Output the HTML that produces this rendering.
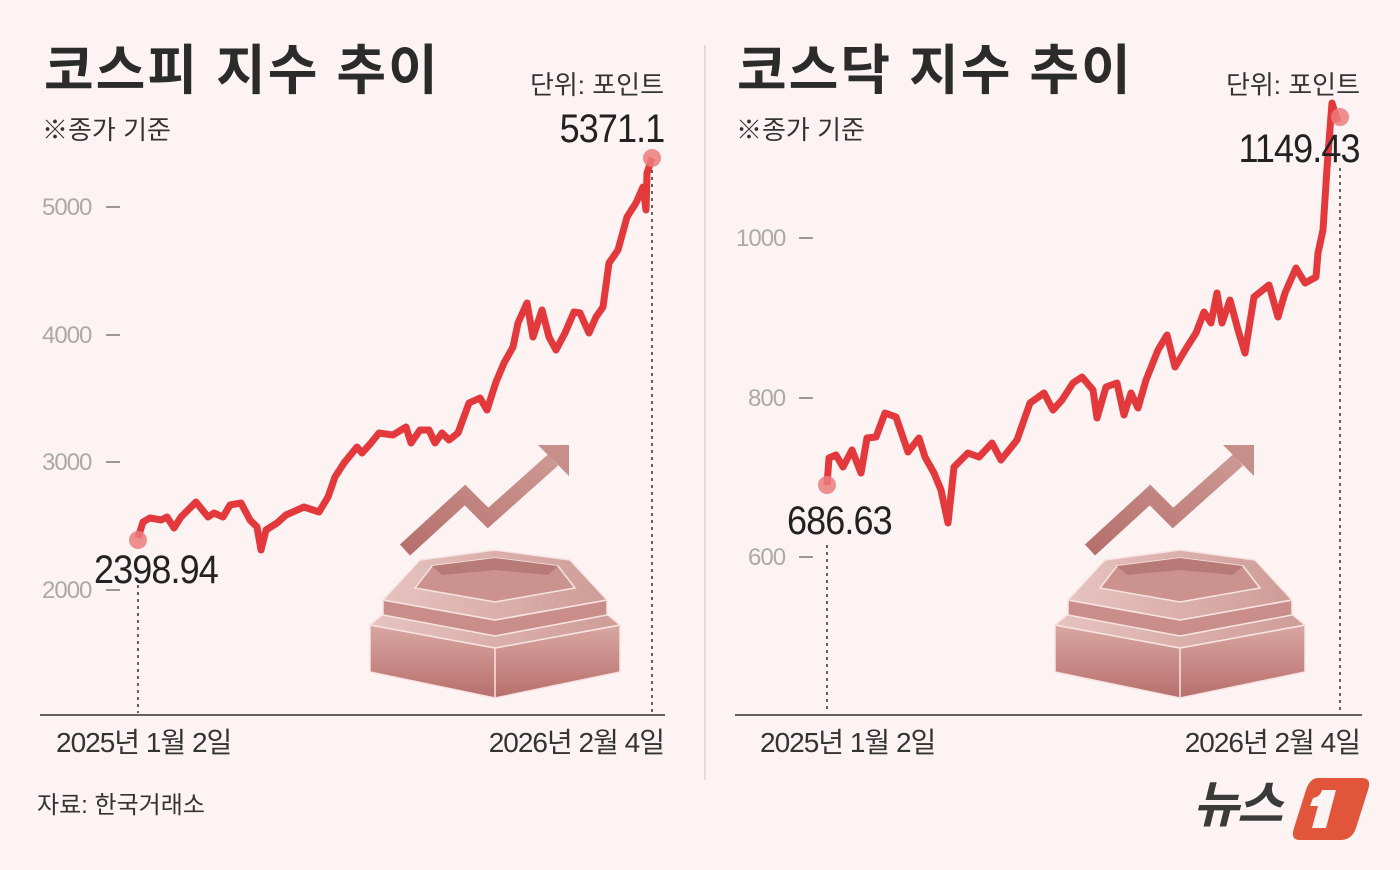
<!DOCTYPE html>
<html><head><meta charset="utf-8"><style>
body{margin:0;width:1400px;height:870px;background:#fdf3f3;overflow:hidden;position:relative;font-family:"Liberation Sans","Noto Sans CJK KR",sans-serif;}
.t{position:absolute;white-space:nowrap;line-height:1;}
.title{font-size:54px;font-weight:bold;color:#2b2b2b;letter-spacing:2px;}
.sub{font-size:26px;color:#333;}
.tick{font-size:24px;color:#aaa;letter-spacing:-1px;}
.val{font-size:40px;color:#222;letter-spacing:-1px;transform:scaleX(0.9);}
.date{font-size:28px;color:#333;letter-spacing:-1px;}
</style></head><body>
<svg width="1400" height="870" style="position:absolute;left:0;top:0">
<defs>
<linearGradient id="gf" x1="0" y1="0" x2="0" y2="1"><stop offset="0" stop-color="#d9a7a2"/><stop offset="1" stop-color="#b76f6c"/></linearGradient>
<linearGradient id="gt" x1="0" y1="0" x2="1" y2="0"><stop offset="0" stop-color="#e6c3bf"/><stop offset="1" stop-color="#cf9c97"/></linearGradient>
<linearGradient id="ga" x1="0" y1="1" x2="1" y2="0"><stop offset="0" stop-color="#b66f6c"/><stop offset="1" stop-color="#cd9893"/></linearGradient>
<g id="ped">
<polygon points="370,625 495,648 620,625 620,672 495,698 370,672" fill="url(#gf)" stroke="#f7e4e2" stroke-width="1.5"/>
<line x1="495" y1="648" x2="495" y2="698" stroke="#f7e4e2" stroke-width="1.5"/>
<polygon points="370,625 400,600 495,592 590,600 620,625 495,648" fill="url(#gt)" stroke="#f7e4e2" stroke-width="1.5"/>
<polygon points="383,600 495,620 607,600 607,615 495,636 383,615" fill="#c98e89" stroke="#f7e4e2" stroke-width="1.5"/>
<polygon points="383,600 420,560 495,550 570,560 607,600 495,620" fill="url(#gt)" stroke="#f7e4e2" stroke-width="1.5"/>
<polygon points="415,588 432,566 495,558 558,566 575,588 495,602" fill="#cc938e" stroke="#f7e4e2" stroke-width="1.5"/>
<polygon points="432,566 495,558 558,566 548,575 495,570 442,575" fill="#b77a76"/>
<polyline points="405,550 465,495 488,518 553,460" fill="none" stroke="url(#ga)" stroke-width="15"/>
<polygon points="538,445 569,445 569,476" fill="#c68f8a"/>
</g>
</defs>
<line x1="705" y1="45" x2="705" y2="780" stroke="#e6dada" stroke-width="2"/>
<line x1="40" y1="715" x2="665" y2="715" stroke="#333" stroke-width="1.5"/>
<line x1="735" y1="715" x2="1362" y2="715" stroke="#333" stroke-width="1.5"/>
<g stroke="#999" stroke-width="2">
<line x1="106" y1="207" x2="120" y2="207"/><line x1="106" y1="335" x2="120" y2="335"/><line x1="106" y1="462" x2="120" y2="462"/><line x1="106" y1="590" x2="120" y2="590"/>
<line x1="799" y1="238" x2="813" y2="238"/><line x1="799" y1="398" x2="813" y2="398"/><line x1="799" y1="557" x2="813" y2="557"/>
</g>
<g stroke="#333" stroke-width="1.5" stroke-dasharray="3,4">
<line x1="138" y1="585" x2="138" y2="713"/><line x1="652" y1="170" x2="652" y2="713"/>
<line x1="827" y1="545" x2="827" y2="713"/><line x1="1340" y1="168" x2="1340" y2="713"/>
</g>
<use href="#ped"/>
<use href="#ped" x="685"/>
<polyline fill="none" stroke="#e4393c" stroke-width="7" stroke-linejoin="round" points="138,538 143,522 150,518 161,520 167,517 174,528 181,517 196,502 208,517 214,513 223,517 230,505 241,503 250,520 257,527 261,550 266,530 277,523 286,515 304,507 319,512 328,497 335,477 344,463 357,447 362,453 371,443 379,433 393,435 406,427 411,443 420,430 429,430 435,443 442,433 449,440 458,433 469,403 480,398 487,410 496,382 504,363 513,347 518,323 527,303 533,337 542,310 549,337 556,350 565,333 574,312 580,313 589,333 596,317 603,307 609,263 618,250 627,217 636,203 643,187 646,210 647,173 652,158"/>
<polyline fill="none" stroke="#e4393c" stroke-width="7" stroke-linejoin="round" points="827,485 829,458 836,455 843,467 852,450 861,473 867,438 876,437 885,413 896,417 908,452 919,438 925,457 934,473 941,490 948,523 954,467 968,453 979,457 992,443 1001,460 1017,440 1030,403 1044,393 1053,410 1062,400 1073,383 1082,377 1093,390 1097,418 1106,387 1117,383 1124,415 1131,393 1138,408 1146,380 1158,350 1167,335 1175,367 1187,347 1196,333 1204,312 1211,323 1217,293 1222,323 1230,300 1238,330 1245,353 1254,297 1269,285 1278,317 1285,293 1296,268 1305,283 1316,277 1318,253 1323,230 1327,168 1332,103 1338,122"/>
<circle cx="138" cy="540" r="9" fill="#ec7b7d" opacity="0.85"/>
<circle cx="652" cy="158" r="9" fill="#ec7b7d" opacity="0.85"/>
<circle cx="827" cy="485" r="9" fill="#ec7b7d" opacity="0.85"/>
<circle cx="1340" cy="117" r="9" fill="#ec7b7d" opacity="0.85"/>
<path d="M1318,778 L1362,778 Q1372,778 1368,790 L1356,828 Q1352,840 1340,840 L1300,840 Q1290,840 1294,828 L1306,790 Q1310,778 1318,778 Z" fill="#e1553a"/>
<path d="M1322,790 L1336,790 L1326,828 L1312,828 L1318,806 L1310,806 L1313,798 Q1320,797 1322,790 Z" fill="#fdf3f3"/>
</svg>
<div class="t title" style="left:44px;top:44px">코스피 지수 추이</div>
<div class="t title" style="left:737px;top:44px">코스닥 지수 추이</div>
<div class="t sub" style="left:42px;top:117px">※종가 기준</div>
<div class="t sub" style="left:736px;top:117px">※종가 기준</div>
<div class="t sub" style="right:736px;top:72px">단위: 포인트</div>
<div class="t sub" style="right:40px;top:72px">단위: 포인트</div>
<div class="t val" style="right:736px;top:109px;transform-origin:right top">5371.1</div>
<div class="t val" style="right:40px;top:129px;transform-origin:right top">1149.43</div>
<div class="t val" style="left:94px;top:550px;transform-origin:left top">2398.94</div>
<div class="t val" style="left:787px;top:501px;transform-origin:left top">686.63</div>
<div class="t tick" style="left:42px;top:196px">5000</div>
<div class="t tick" style="left:42px;top:324px">4000</div>
<div class="t tick" style="left:42px;top:451px">3000</div>
<div class="t tick" style="left:42px;top:579px">2000</div>
<div class="t tick" style="left:736px;top:227px">1000</div>
<div class="t tick" style="left:748px;top:387px">800</div>
<div class="t tick" style="left:748px;top:546px">600</div>
<div class="t date" style="left:56px;top:729px">2025년 1월 2일</div>
<div class="t date" style="right:736px;top:729px">2026년 2월 4일</div>
<div class="t date" style="left:760px;top:729px">2025년 1월 2일</div>
<div class="t date" style="right:40px;top:729px">2026년 2월 4일</div>
<div class="t" style="left:37px;top:794px;font-size:24px;color:#333">자료: 한국거래소</div>
<div class="t" style="left:1193px;top:780px;font-size:50px;font-weight:bold;font-style:italic;color:#3a3a3a;letter-spacing:-2px">뉴스</div>
</body></html>
